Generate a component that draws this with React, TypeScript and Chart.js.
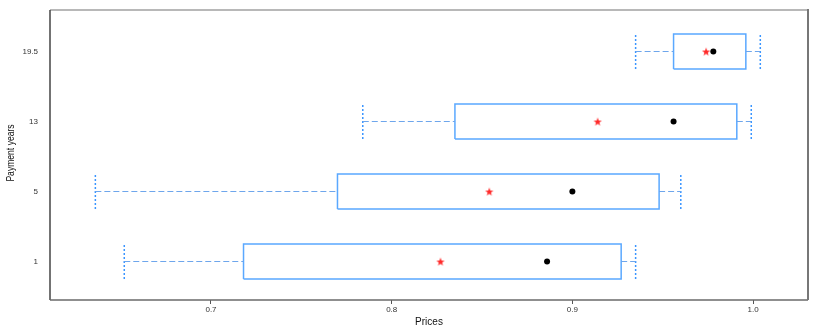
import React, { useEffect, useRef } from 'react';
import { Chart, registerables } from 'chart.js';

Chart.register(...registerables);

// Categories (bottom to top) and box-plot statistics
const categories = ['1', '5', '13', '19.5'];
const whiskerLow = [0.652, 0.636, 0.784, 0.935];
const q1Values = [0.718, 0.770, 0.835, 0.956];
const medianValues = [0.886, 0.900, 0.956, 0.978];
const q3Values = [0.927, 0.948, 0.991, 0.996];
const whiskerHigh = [0.935, 0.960, 0.999, 1.004];
const meanValues = [0.827, 0.854, 0.914, 0.974];
const xTicks = [0.7, 0.8, 0.9, 1.0];
const yTitle = 'Payment years';

const BOX_COLOR = '#5aa8ff';
const WHISKER_COLOR = '#6ea6ec';
const CAP_COLOR = '#3a95ff';
const HALF = 0.25;

function makeStar(): HTMLCanvasElement {
  const c = document.createElement('canvas');
  c.width = 10;
  c.height = 10;
  const ctx = c.getContext('2d')!;
  ctx.fillStyle = '#ff2a2a';
  ctx.beginPath();
  for (let k = 0; k < 10; k++) {
    const r = k % 2 === 0 ? 4.3 : 1.8;
    const a = -Math.PI / 2 + (k * Math.PI) / 5;
    const px = 5 + r * Math.cos(a);
    const py = 5.4 + r * Math.sin(a);
    if (k === 0) ctx.moveTo(px, py);
    else ctx.lineTo(px, py);
  }
  ctx.closePath();
  ctx.fill();
  return c;
}

const framePlugin = {
  id: 'frame',
  afterDatasetsDraw(chart: any) {
    const { ctx, chartArea } = chart;
    const { left, top, right, bottom } = chartArea;
    ctx.save();
    ctx.lineWidth = 2;
    ctx.strokeStyle = '#b8b8b8';
    ctx.beginPath();
    ctx.moveTo(left, top);
    ctx.lineTo(right, top);
    ctx.stroke();
    ctx.lineWidth = 1.5;
    ctx.strokeStyle = '#444';
    ctx.beginPath();
    ctx.moveTo(left, top);
    ctx.lineTo(left, bottom);
    ctx.stroke();
    ctx.strokeStyle = '#6a6a6a';
    ctx.beginPath();
    ctx.moveTo(left, bottom);
    ctx.lineTo(right, bottom);
    ctx.stroke();
    ctx.lineWidth = 2;
    ctx.strokeStyle = '#777';
    ctx.beginPath();
    ctx.moveTo(right, top - 1);
    ctx.lineTo(right, bottom);
    ctx.stroke();

    // narrow y-axis title
    const cy = (top + bottom) / 2 - 2;
    ctx.translate(11, cy);
    ctx.rotate(-Math.PI / 2);
    ctx.scale(0.78, 1);
    ctx.fillStyle = '#111';
    ctx.font = "11px 'Liberation Sans', Arial, sans-serif";
    ctx.textAlign = 'center';
    ctx.textBaseline = 'middle';
    ctx.fillText(yTitle, 0, 0);
    ctx.restore();
  },
};

export default function App() {
  const ref = useRef<HTMLCanvasElement | null>(null);

  useEffect(() => {
    if (!ref.current) return;
    const star = makeStar();
    const datasets: any[] = [];
    const lineBase = {
      showLine: true,
      pointRadius: 0,
      pointHoverRadius: 0,
      tension: 0,
      fill: false,
    };
    categories.forEach((_, i) => {
      const y = i + 1;
      // whiskers
      datasets.push({
        ...lineBase,
        data: [{ x: whiskerLow[i], y }, { x: q1Values[i], y }],
        borderColor: WHISKER_COLOR,
        borderWidth: 1.2,
        borderDash: [6, 3],
      });
      datasets.push({
        ...lineBase,
        data: [{ x: q3Values[i], y }, { x: whiskerHigh[i], y }],
        borderColor: WHISKER_COLOR,
        borderWidth: 1.2,
        borderDash: [6, 3],
      });
      // caps
      datasets.push({
        ...lineBase,
        data: [{ x: whiskerLow[i], y: y - HALF }, { x: whiskerLow[i], y: y + HALF }],
        borderColor: CAP_COLOR,
        borderWidth: 1.5,
        borderDash: [2, 2],
      });
      datasets.push({
        ...lineBase,
        data: [{ x: whiskerHigh[i], y: y - HALF }, { x: whiskerHigh[i], y: y + HALF }],
        borderColor: CAP_COLOR,
        borderWidth: 1.5,
        borderDash: [2, 2],
      });
      // box
      datasets.push({
        ...lineBase,
        data: [
          { x: q1Values[i], y: y - HALF },
          { x: q3Values[i], y: y - HALF },
          { x: q3Values[i], y: y + HALF },
          { x: q1Values[i], y: y + HALF },
          { x: q1Values[i], y: y - HALF },
        ],
        borderColor: BOX_COLOR,
        borderWidth: 1.5,
      });
    });
    datasets.push({
      data: medianValues.map((v, i) => ({ x: v, y: i + 1 })),
      pointStyle: 'circle',
      pointRadius: 3,
      backgroundColor: '#000',
      borderColor: '#000',
      borderWidth: 0,
      showLine: false,
    });
    datasets.push({
      data: meanValues.map((v, i) => ({ x: v, y: i + 1 })),
      pointStyle: star,
      pointRadius: 5,
      showLine: false,
    });

    const tickFont = { family: "'Liberation Sans', Arial, sans-serif", size: 8 };
    const noPad = (scale: any) => {
      scale.paddingTop = 0;
      scale.paddingBottom = 0;
      scale.paddingLeft = 0;
      scale.paddingRight = 0;
    };
    const chart = new Chart(ref.current, {
      type: 'scatter',
      data: { datasets },
      plugins: [framePlugin],
      options: {
        animation: false,
        responsive: false,
        events: [],
        layout: { padding: { left: 0, top: 10, right: 22, bottom: 0 } },
        plugins: { legend: { display: false }, tooltip: { enabled: false } },
        scales: {
          x: {
            type: 'linear',
            min: 0.6109,
            max: 1.0304,
            afterBuildTicks: (scale: any) => {
              scale.ticks = xTicks.map((v) => ({ value: v }));
            },
            afterFit: (scale: any) => {
              scale.height = 32;
              noPad(scale);
            },
            border: { display: false },
            grid: {
              display: true,
              drawOnChartArea: false,
              drawTicks: true,
              tickLength: 4,
              color: '#555',
              lineWidth: 1,
            },
            ticks: {
              padding: 1,
              color: '#333',
              font: tickFont,
              maxRotation: 0,
              callback: (v: any) => Number(v).toFixed(1),
            },
            title: {
              display: true,
              text: 'Prices',
              color: '#111',
              font: { family: "'Liberation Sans', Arial, sans-serif", size: 10 },
              padding: { top: 0, bottom: 4 },
            },
          },
          y: {
            type: 'linear',
            min: 0.45,
            max: 4.593,
            afterBuildTicks: (scale: any) => {
              scale.ticks = categories.map((_, i) => ({ value: i + 1 }));
            },
            afterFit: (scale: any) => {
              scale.width = 50;
              noPad(scale);
            },
            border: { display: false },
            grid: { display: false, drawTicks: false, tickLength: 0 },
            ticks: {
              padding: 12,
              color: '#333',
              font: tickFont,
              callback: (v: any) => categories[Math.round(Number(v)) - 1] ?? '',
            },
            title: { display: false },
          },
        },
      },
    });
    return () => chart.destroy();
  }, []);

  return (
    <div style={{ position: 'fixed', left: 0, top: 0, width: 830, height: 332, background: '#fff' }}>
      <canvas ref={ref} width={830} height={332} style={{ width: 830, height: 332 }} />
    </div>
  );
}
